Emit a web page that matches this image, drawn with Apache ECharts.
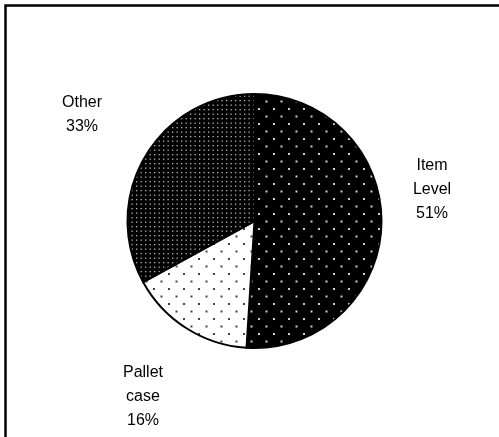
<!DOCTYPE html>
<html>
<head>
<meta charset="utf-8">
<script src="https://cdn.jsdelivr.net/npm/echarts@6/dist/echarts.min.js"></script>
<style>
  html, body { margin: 0; padding: 0; background: #fff; }
  #chart { width: 499px; height: 437px; }
</style>
</head>
<body>
<div id="chart"></div>
<script>
// Share of tagging by level (percent)
const categories = ['Item\nLevel', 'Pallet\ncase', 'Other'];
const shares = [51, 16, 33];

// Dotted fills: staggered dot grid on a tile
function dotTile(size, bg, fg, dots, dot) {
  const c = document.createElement('canvas');
  c.width = size; c.height = size;
  const g = c.getContext('2d');
  g.fillStyle = bg;
  g.fillRect(0, 0, size, size);
  g.fillStyle = fg;
  dots.forEach(([x, y]) => g.fillRect(x, y, dot, dot));
  return c;
}
const sparseDark = dotTile(15, '#000', '#d0d0d0', [[3, 3], [10.5, 10.5]], 2);
const sparseLight = dotTile(15, '#fff', '#444', [[3, 3], [10.5, 10.5]], 2);
const denseDark = dotTile(9, '#000', '#b8b8b8', [[1, 1], [5.5, 1], [1, 5.5], [5.5, 5.5]], 1.3);
const fills = [sparseDark, sparseLight, denseDark];

// Label anchor points (px) for each slice
const labelSpots = [[432, 190], [143, 397], [82, 115]];

const chart = echarts.init(document.getElementById('chart'), null, { renderer: 'canvas' });
chart.setOption({
  animation: false,
  backgroundColor: '#fff',
  graphic: [{
    type: 'rect',
    shape: { x: 5.5, y: 5.5, width: 700, height: 700 },
    style: { fill: 'none', stroke: '#000', lineWidth: 2.5 },
    silent: true
  }],
  series: [{
    type: 'pie',
    center: [254.5, 221],
    radius: 127,
    startAngle: 90,
    clockwise: true,
    data: categories.map((name, i) => ({
      name,
      value: shares[i],
      itemStyle: { color: { image: fills[i], repeat: 'repeat' } }
    })),
    itemStyle: { borderColor: '#000', borderWidth: 2 },
    label: {
      show: true,
      position: 'outside',
      formatter: p => p.name + '\n' + p.value + '%',
      fontFamily: 'Liberation Sans, Arial, sans-serif',
      fontSize: 16,
      lineHeight: 24,
      color: '#000',
      align: 'center'
    },
    labelLine: { show: false },
    labelLayout: p => ({
      x: labelSpots[p.dataIndex][0],
      y: labelSpots[p.dataIndex][1],
      align: 'center',
      verticalAlign: 'middle'
    }),
    emphasis: { disabled: true }
  }]
});
</script>
</body>
</html>
